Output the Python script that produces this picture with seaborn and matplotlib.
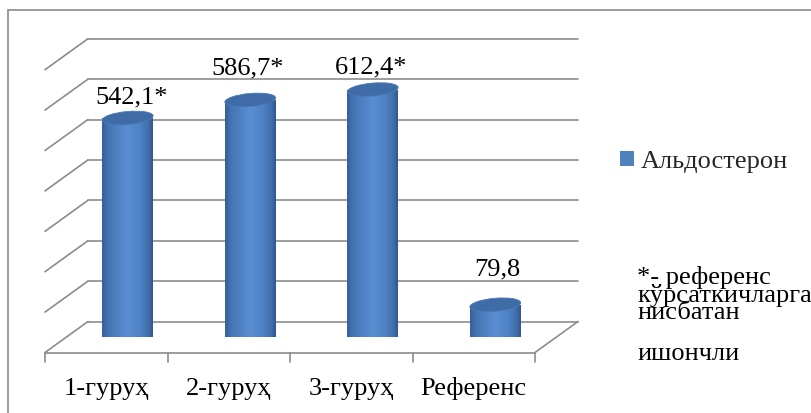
import numpy as np
import pandas as pd
import seaborn as sns
import matplotlib
matplotlib.use("Agg")
import matplotlib.pyplot as plt
import matplotlib.transforms as mtransforms
from matplotlib.patches import Ellipse, Patch
from matplotlib.lines import Line2D
from matplotlib.colors import LinearSegmentedColormap

# ---- data -------------------------------------------------------------
categories = ["1-гуруҳ", "2-гуруҳ", "3-гуруҳ", "Референс"]
values = [542.1, 586.7, 612.4, 79.8]
value_labels = ["542,1*", "586,7*", "612,4*", "79,8"]
series_name = "Альдостерон"
y_ticks = [0, 100, 200, 300, 400, 500, 600, 700]
footnote_lines = ["*- референс", "кўрсаткичларга", "нисбатан", "ишончли"]

# ---- layout / style ---------------------------------------------------
label_lift = [15, 26, 16, 29]      # px above cylinder top (baseline)
label_nudge = [4, -3, -2, 2]       # px horizontal nudge
DEPTH_X, DEPTH_Y = 21.5, 15.5      # half-depth of the 3-D box, px
ELL_H = 13                         # cylinder cap height, px
GRID = "#8c8c8c"
FONT = ["Liberation Serif", "DejaVu Serif"]
FS = 19

sns.set_theme(style="white")
plt.rcParams["font.family"] = FONT
TXT = dict(family=FONT, size=FS, color="black")

DPI = 100
W, H = 811, 413
fig = plt.figure(figsize=(W / DPI, H / DPI), dpi=DPI)
fig.patch.set_facecolor("white")
ax = fig.add_axes([66.5 / W, 76 / H, 490 / W, 282.8 / H])
ax.set_axis_off()

df = pd.DataFrame({"group": categories, "value": values})
sns.barplot(data=df, x="group", y="value", ax=ax, width=0.416,
            color="#4F81BD", saturation=1, errorbar=None)
XLIM = (-0.5, len(categories) - 0.5)
YLIM = (y_ticks[0], y_ticks[-1])
ax.set_xlim(*XLIM)
ax.set_ylim(*YLIM)

ident = mtransforms.IdentityTransform()


def disp(x, y, dx=0.0, dy=0.0):
    p = ax.transData.transform((x, y))
    return p[0] + dx, p[1] + dy


def seg(p0, p1):
    ln = Line2D([p0[0], p1[0]], [p0[1], p1[1]], transform=ident,
                color=GRID, lw=1.2, clip_on=False, zorder=1)
    ax.add_line(ln)


# back wall gridlines and side-wall diagonals
for v in y_ticks:
    seg(disp(XLIM[0], v, DEPTH_X, DEPTH_Y), disp(XLIM[1], v, DEPTH_X, DEPTH_Y))
    seg(disp(XLIM[0], v, -DEPTH_X, -DEPTH_Y), disp(XLIM[0], v, DEPTH_X, DEPTH_Y))

# floor front edge, right floor edge and category ticks
seg(disp(XLIM[0], 0, -DEPTH_X, -DEPTH_Y), disp(XLIM[1], 0, -DEPTH_X, -DEPTH_Y))
seg(disp(XLIM[1], 0, -DEPTH_X, -DEPTH_Y), disp(XLIM[1], 0, DEPTH_X, DEPTH_Y))
for b in np.arange(XLIM[0], XLIM[1] + 0.01, 1.0):
    seg(disp(b, 0, -DEPTH_X, -DEPTH_Y), disp(b, 0, -DEPTH_X, -DEPTH_Y - 9))

# cylinders built on the seaborn bars
cyl = LinearSegmentedColormap.from_list(
    "cyl",
    [(0.0, "#34609b"), (0.12, "#4474b3"), (0.5, "#5a8ed4"),
     (0.75, "#4f82c4"), (0.92, "#3f6daa"), (1.0, "#2d578f")])
grad = np.linspace(0, 1, 256)[None, :]
px_per_unit = ax.transData.transform((0, 1))[1] - ax.transData.transform((0, 0))[1]
ell_h_data = ELL_H / px_per_unit

for i, bar in enumerate(ax.patches[:len(values)]):
    x0, w, v = bar.get_x(), bar.get_width(), bar.get_height()
    xc = x0 + w / 2
    bar.set_edgecolor("none")
    bar.set_zorder(2)

    body = ax.imshow(grad, cmap=cyl, extent=(x0, x0 + w, 0, v),
                     aspect="auto", origin="lower", zorder=3,
                     interpolation="bilinear")
    body.set_clip_path(bar)

    base = Ellipse((xc, 0), w, ell_h_data, facecolor="none",
                   edgecolor="none", zorder=2)
    ax.add_patch(base)
    bottom = ax.imshow(grad, cmap=cyl,
                       extent=(x0, x0 + w, -ell_h_data / 2, ell_h_data / 2),
                       aspect="auto", origin="lower", zorder=3,
                       interpolation="bilinear")
    bottom.set_clip_path(base)

    w_px = w * (ax.transData.transform((1, 0))[0] - ax.transData.transform((0, 0))[0])
    cap = Ellipse((0, 0), w_px / DPI, ELL_H / DPI, angle=5,
                  transform=fig.dpi_scale_trans
                  + mtransforms.ScaledTranslation(xc, v, ax.transData),
                  facecolor="#3f6ca7", edgecolor="#4a7ab8", lw=0.6,
                  zorder=4, clip_on=False)
    ax.add_patch(cap)

    ax.annotate(value_labels[i], xy=(xc, v),
                xytext=(label_nudge[i], label_lift[i]),
                textcoords="offset pixels", ha="center", va="baseline",
                zorder=5, annotation_clip=False, **TXT)

for i, cat in enumerate(categories):
    ax.annotate(cat, xy=(i, 0), xytext=(-DEPTH_X, -58),
                textcoords="offset pixels", ha="center", va="baseline",
                annotation_clip=False, **TXT)

ax.set_xlim(*XLIM)
ax.set_ylim(*YLIM)

# legend
fig.legend(handles=[Patch(facecolor="#4F81BD", edgecolor="none",
                          label=series_name)],
           loc="center left", bbox_to_anchor=(620 / W, 1 - 162 / H),
           frameon=False, prop=dict(family=FONT, size=FS),
           handlelength=0.52, handleheight=0.52,
           handletextpad=0.28, borderpad=0, borderaxespad=0)

# footnote
for txt, base_y in zip(footnote_lines, [284, 302, 319, 360]):
    fig.text(637 / W, 1 - base_y / H, txt, ha="left", va="baseline", **TXT)

# outer chart frame
fig.add_artist(Line2D([8 / W, 1.0], [1 - 10 / H, 1 - 10 / H],
                      transform=fig.transFigure, color="#8a8a8a", lw=1.2))
fig.add_artist(Line2D([8 / W, 8 / W], [0, 1 - 10 / H],
                      transform=fig.transFigure, color="#8a8a8a", lw=1.2))

fig.savefig("out.png", dpi=DPI, facecolor="white")
